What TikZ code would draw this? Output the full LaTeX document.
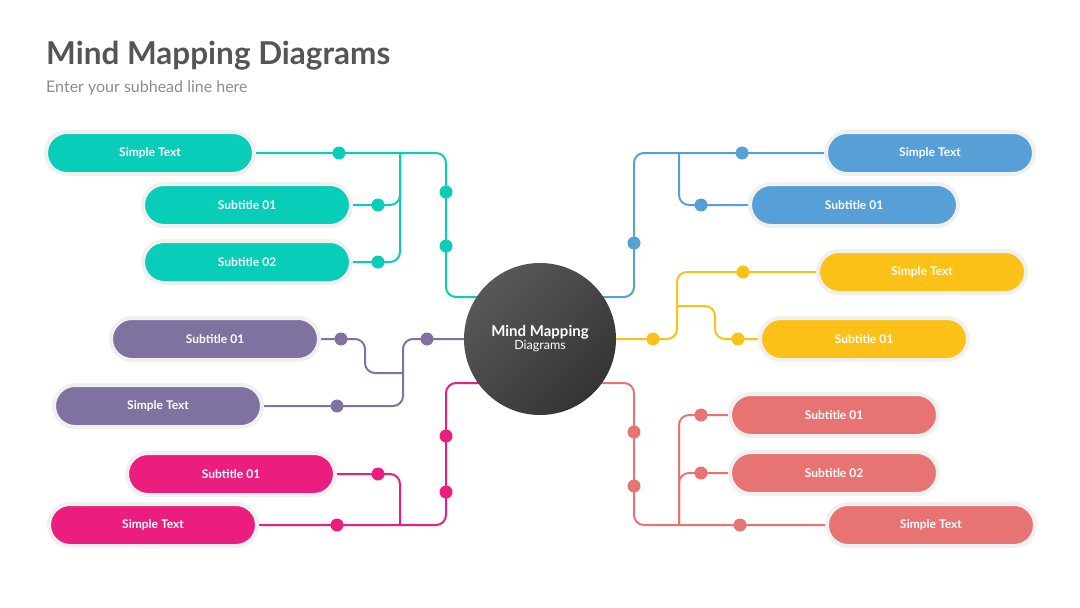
\documentclass[tikz,border=0pt]{standalone}
\usepackage{fontspec}
\setmainfont{Lato}
\usepackage{tikz}
\usetikzlibrary{positioning,backgrounds}
\definecolor{mmTeal}{RGB}{7,205,185}
\definecolor{mmBlue}{RGB}{86,159,215}
\definecolor{mmYellow}{RGB}{252,193,23}
\definecolor{mmPurple}{RGB}{127,114,160}
\definecolor{mmPink}{RGB}{235,30,127}
\definecolor{mmSalmon}{RGB}{232,115,115}
\definecolor{mmRim}{RGB}{240,240,240}
\definecolor{mmTitle}{RGB}{85,85,85}
\definecolor{mmSub}{RGB}{140,140,140}
\definecolor{mmHubA}{RGB}{88,88,88}
\definecolor{mmHubB}{RGB}{52,52,52}

\begin{document}
\begin{tikzpicture}[x=1pt,y=-1pt,
          pill/.style={draw=mmRim, line width=4pt, rounded corners=21pt,
            minimum width=208pt, minimum height=42pt, text=white,
            font=\bfseries\fontsize{12}{14}\selectfont},
          link/.style={line width=2pt, rounded corners=10pt},
          hub/.style={circle, minimum size=152pt, text=white, align=center,
            top color=mmHubA, bottom color=mmHubB, shading angle=45}
        ]
          \useasboundingbox (0,0) rectangle (1080,608);
          % heading
          \node[anchor=base west, text=mmTitle, font=\bfseries\fontsize{31.5}{34}\selectfont, inner sep=0pt] (title) at (46,64) {Mind Mapping Diagrams};
          \node[anchor=base west, text=mmSub, font=\fontsize{16}{18}\selectfont, inner sep=0pt] (subtitle) at (46,92) {Enter your subhead line here};
          % centre
          \node[hub] (hub) at (540,339) {{\bfseries\fontsize{15}{16}\selectfont Mind Mapping}\\[1pt]{\fontsize{12.5}{14}\selectfont Diagrams}};
          % boxes
          \node[pill, fill=mmTeal] (tA) at (150,153) {Simple Text};
          \node[pill, fill=mmTeal] (tB) at (247,205) {Subtitle 01};
          \node[pill, fill=mmTeal] (tC) at (247,262) {Subtitle 02};
          \node[pill, fill=mmBlue] (bA) at (930,153) {Simple Text};
          \node[pill, fill=mmBlue] (bB) at (854,205) {Subtitle 01};
          \node[pill, fill=mmYellow] (yA) at (922,272) {Simple Text};
          \node[pill, fill=mmYellow] (yB) at (864,339) {Subtitle 01};
          \node[pill, fill=mmPurple] (pA) at (215,339) {Subtitle 01};
          \node[pill, fill=mmPurple] (pB) at (158,406) {Simple Text};
          \node[pill, fill=mmPink] (kA) at (231,474) {Subtitle 01};
          \node[pill, fill=mmPink] (kB) at (153,525) {Simple Text};
          \node[pill, fill=mmSalmon] (sA) at (834,415) {Subtitle 01};
          \node[pill, fill=mmSalmon] (sB) at (834,473) {Subtitle 02};
          \node[pill, fill=mmSalmon] (sC) at (931,525) {Simple Text};
          % links
          \begin{scope}[on background layer]
            \draw[link,mmTeal] (tA.east) -- (446,153) -- (446,297) -- (hub.center |- 0,297);
            \draw[link,mmTeal] (tB.east) -- (400,205) -- (400,153);
            \draw[link,mmTeal] (tC.east) -- (400,262) -- (400,153);
            \draw[link,mmBlue] (hub.center |- 0,297) -- (634,297) -- (634,153) -- (bA.west);
            \draw[link,mmBlue] (bB.west) -- (679,205) -- (679,153);
            \draw[link,mmYellow] (hub.center) -- (677,339) -- (677,272) -- (yA.west);
            \draw[link,mmYellow] (677,306) -- (715,306) -- (715,339) -- (yB.west);
            \draw[link,mmPurple] (hub.center) -- (403,339) -- (403,406) -- (pB.east);
            \draw[link,mmPurple] (pA.east) -- (365,339) -- (365,373) -- (403,373);
            \draw[link,mmPink] (hub.center |- 0,383) -- (446,383) -- (446,525) -- (kB.east);
            \draw[link,mmPink] (kA.east) -- (400,474) -- (400,525);
            \draw[link,mmSalmon] (hub.center |- 0,383) -- (634,383) -- (634,525) -- (sC.west);
            \draw[link,mmSalmon] (sA.west) -- (679,415) -- (679,525);
            \draw[link,mmSalmon] (sB.west) -- (679,473) -- (679,525);
          \end{scope}
          % dots
          \foreach \px/\py in {339/153,378/205,378/262,446/192,446/246}
            \fill[mmTeal] (\px,\py) circle (6.5pt);
          \foreach \px/\py in {742/153,701/205,634/243}
            \fill[mmBlue] (\px,\py) circle (6.5pt);
          \foreach \px/\py in {653/339,743/272,738/339}
            \fill[mmYellow] (\px,\py) circle (6.5pt);
          \foreach \px/\py in {341/339,427/339,337/406}
            \fill[mmPurple] (\px,\py) circle (6.5pt);
          \foreach \px/\py in {378/474,337/525,446/436,446/492}
            \fill[mmPink] (\px,\py) circle (6.5pt);
          \foreach \px/\py in {701/415,701/473,740/525,634/432,634/486}
            \fill[mmSalmon] (\px,\py) circle (6.5pt);
        \end{tikzpicture}
\end{document}
